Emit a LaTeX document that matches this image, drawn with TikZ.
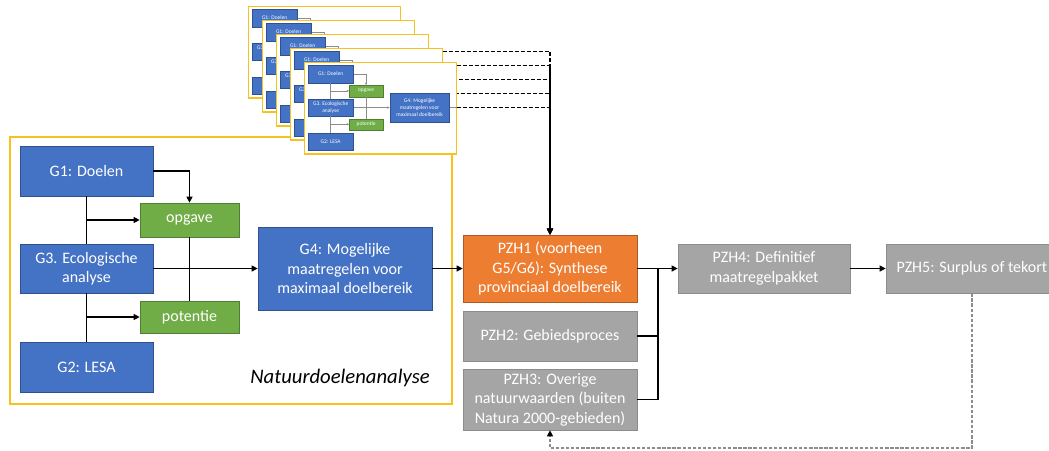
\documentclass[tikz,border=0pt]{standalone}
\usepackage{fontspec}
\setmainfont{Carlito}
\usetikzlibrary{arrows.meta}

\definecolor{nblue}{HTML}{4472C4}
\definecolor{nblueb}{HTML}{2F528F}
\definecolor{ngreen}{HTML}{70AD47}
\definecolor{ngreenb}{HTML}{507E32}
\definecolor{norange}{HTML}{ED7D31}
\definecolor{norangeb}{HTML}{AE5A21}
\definecolor{ngray}{HTML}{A5A5A5}
\definecolor{ngrayb}{HTML}{8C8C8C}
\definecolor{nyellow}{HTML}{F7C21E}

\tikzset{
  sz/.style 2 args={minimum width=#1*0.75pt, minimum height=#2*0.75pt},
  boxline/.style={line width=0.5pt},
  box/.style={rectangle, inner sep=0pt, align=center, text=white,
    font=\fontsize{12}{14.6}\selectfont, boxline},
  bluebox/.style={box, fill=nblue, draw=nblueb},
  greenbox/.style={box, fill=ngreen, draw=ngreenb},
  orangebox/.style={box, fill=norange, draw=norangeb},
  graybox/.style={box, fill=ngray, draw=ngrayb},
  frameline/.style={line width=1.3pt},
  frame/.style={rectangle, draw=nyellow, fill=white, frameline, sz={442}{267},
    anchor=north west, inner sep=0pt},
  conn/.style={line width=0.9pt, black, >={Triangle[length=4.5pt,width=4.5pt]}},
  cardconn/.style={line width=0.35pt, black!45},
  feed/.style={line width=0.9pt, black, dash pattern=on 3pt off 1.5pt,
    >={Triangle[length=4.5pt,width=4.5pt]}},
  back/.style={line width=0.8pt, ngrayb, dash pattern=on 2.5pt off 1.3pt,
    >={Triangle[length=4.5pt,width=4.5pt,color=black]}},
}

% Natuurdoelenanalyse flow (G1..G4) inside its yellow frame;
% #1 is a prefix for the node names
\newcommand\ndaflow[1]{%
  \node[frame] (#1frame) at (0,0) {};
  \node[bluebox, sz={133}{50}] (#1g1) at (77.5,35) {G1: Doelen};
  \node[greenbox, sz={99}{34}] (#1opg) at (180.5,84) {opgave};
  \node[bluebox, sz={133}{49}] (#1g3) at (77.5,132.5) {G3. Ecologische\\analyse};
  \node[greenbox, sz={99}{32}] (#1pot) at (180.5,181) {potentie};
  \node[bluebox, sz={133}{50}] (#1g2) at (77.5,231) {G2: LESA};
  \node[bluebox, sz={174}{83}] (#1g4) at (336,132.5)
    {G4: Mogelijke\\maatregelen voor\\maximaal doelbereik};
  \draw[conn,->] (#1g1.east) -| (#1opg.north);
  \draw[conn] (#1g1.south) -- (#1g3.north);
  \draw[conn] (#1g3.south) -- (#1g2.north);
  \draw[conn,->] (#1g1.south |- #1opg.west) -- (#1opg.west);
  \draw[conn,->] (#1g1.south |- #1pot.west) -- (#1pot.west);
  \draw[conn] (#1opg.south) -- (#1pot.north);
  \draw[conn,->] (#1g3.east) -- (#1g4.west);
}

\begin{document}
\begin{tikzpicture}[x=0.75pt, y=-0.75pt]
\useasboundingbox (0,0) rectangle (1049,450);
\clip (0,0) rectangle (1049,450);

% main analysis block
\begin{scope}[shift={(9,136)}]
  \ndaflow{m}
\end{scope}
\node[anchor=east, inner sep=0pt, font=\itshape\fontsize{15.5}{18}\selectfont]
  (ndalabel) at (430,378) {Natuurdoelenanalyse};

% provincial steps
\node[orangebox, sz={174}{67}] (pzh1) at (550,268.5)
  {PZH1 (voorheen\\G5/G6): Synthese\\provinciaal doelbereik};
\node[graybox, sz={174}{50}] (pzh2) at (550,336) {PZH2: Gebiedsproces};
\node[graybox, sz={174}{61}] (pzh3) at (550,399.5)
  {PZH3: Overige\\natuurwaarden (buiten\\Natura 2000-gebieden)};
\node[graybox, sz={172}{49}] (pzh4) at (764,268.5) {PZH4: Definitief\\maatregelpakket};
\node[graybox, sz={172}{49}] (pzh5) at (972,268.5) {PZH5: Surplus of tekort};

\coordinate (join) at (658,268.5);
\draw[conn,->] (mg4.east) -- (pzh1.west);
\draw[conn,->] (pzh1.east) -- (pzh4.west);
\draw[conn] (pzh2.east) -| (join);
\draw[conn] (pzh3.east) -| (join);
\draw[conn,->] (pzh4.east) -- (pzh5.west);

\coordinate (fbturn) at (972,448);
\draw[back,->] (pzh5.south) -- (fbturn) -| (pzh3.south);

% stack of repeated analyses, back to front
\foreach \i in {0,...,4}{
  \begin{scope}[shift={(248+14*\i,6+14*\i)}, scale=0.344, transform shape,
      conn/.style={line width=0.35pt, black!45,
        >={Triangle[length=1.6pt,width=1.6pt]}},
      boxline/.style={line width=0.2pt},
      frameline/.style={line width=1pt}]
    \ndaflow{c\i}
  \end{scope}
  \draw[cardconn] (c\i g4.east) -- (c\i g4.east -| c\i frame.east);
  \draw[feed,->] (c\i g4.east -| c\i frame.east) -| (pzh1.north);
}
\end{tikzpicture}
\end{document}
